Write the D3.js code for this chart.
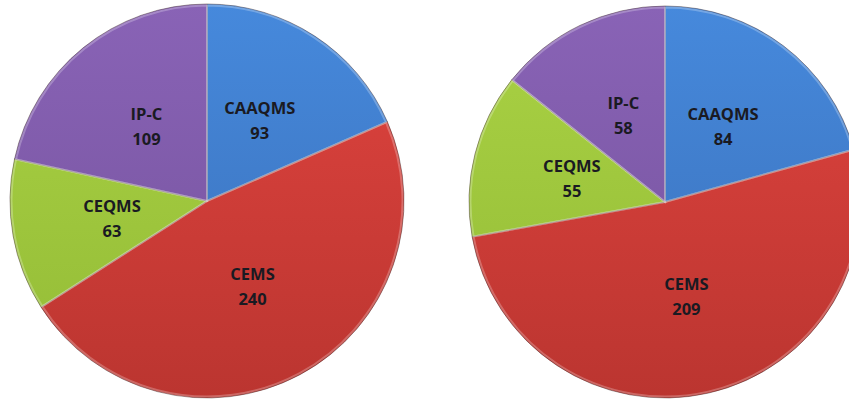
<!DOCTYPE html>
<html>
<head>
<meta charset="utf-8">
<script src="https://cdn.jsdelivr.net/npm/d3@7"></script>
<style>
  body { margin: 0; background: #fff; }
  svg text { font-family: "Open Sans", "Liberation Sans", sans-serif; font-weight: bold; }
</style>
</head>
<body>
<div id="chart"></div>
<script>
var categories = ["CAAQMS", "CEMS", "CEQMS", "IP-C"];
var valuesLeft = [93, 240, 63, 109];
var valuesRight = [84, 209, 55, 58];

// top colour, bottom colour for each slice
var sliceColors = [
  ["#4689dc", "#3a6fb8"],
  ["#e0443f", "#bb3530"],
  ["#aad244", "#93bb36"],
  ["#8963b6", "#74529c"]
];

var width = 849, height = 400;

var svg = d3.select("#chart").append("svg")
    .attr("width", width)
    .attr("height", height);

var defs = svg.append("defs");

var pies = [
  { id: "left", values: valuesLeft, cx: 207, cy: 201, r: 197 },
  { id: "right", values: valuesRight, cx: 665, cy: 202, r: 196 }
];

var pie = d3.pie().sort(null).value(function(d) { return d; });

pies.forEach(function(p) {
  // one vertical gradient per slice colour, spanning the pie
  sliceColors.forEach(function(c, i) {
    var grad = defs.append("linearGradient")
        .attr("id", "g-" + p.id + "-" + i)
        .attr("gradientUnits", "userSpaceOnUse")
        .attr("x1", 0).attr("y1", -p.r)
        .attr("x2", 0).attr("y2", p.r);
    grad.append("stop").attr("offset", "0%").attr("stop-color", c[0]);
    grad.append("stop").attr("offset", "100%").attr("stop-color", c[1]);
  });

  var arc = d3.arc().innerRadius(0).outerRadius(p.r);
  var labelArc = d3.arc().innerRadius(p.r * 0.49).outerRadius(p.r * 0.49);

  var g = svg.append("g")
      .attr("transform", "translate(" + p.cx + "," + p.cy + ")");

  var arcs = pie(p.values);

  g.selectAll("path.slice")
    .data(arcs)
    .enter().append("path")
      .attr("class", "slice")
      .attr("d", arc)
      .attr("fill", function(d, i) { return "url(#g-" + p.id + "-" + i + ")"; })
      .attr("stroke", "rgba(60,40,40,0.45)")
      .attr("stroke-width", 1);

  // light bevel along the slice edges
  g.selectAll("path.bevel")
    .data(arcs)
    .enter().append("path")
      .attr("class", "bevel")
      .attr("d", d3.arc().innerRadius(0).outerRadius(p.r - 1.5))
      .attr("fill", "none")
      .attr("stroke", "rgba(255,255,255,0.25)")
      .attr("stroke-width", 2);

  var labels = g.selectAll("g.label")
    .data(arcs)
    .enter().append("g")
      .attr("class", "label")
      .attr("transform", function(d) { return "translate(" + labelArc.centroid(d) + ")"; });

  labels.append("text")
      .attr("text-anchor", "middle")
      .attr("y", -6)
      .attr("font-size", 16.5)
      .attr("fill", "#1a1a22")
      .text(function(d, i) { return categories[i]; });

  labels.append("text")
      .attr("text-anchor", "middle")
      .attr("y", 19)
      .attr("font-size", 16.5)
      .attr("fill", "#1a1a22")
      .text(function(d) { return d.data; });
});
</script>
</body>
</html>
